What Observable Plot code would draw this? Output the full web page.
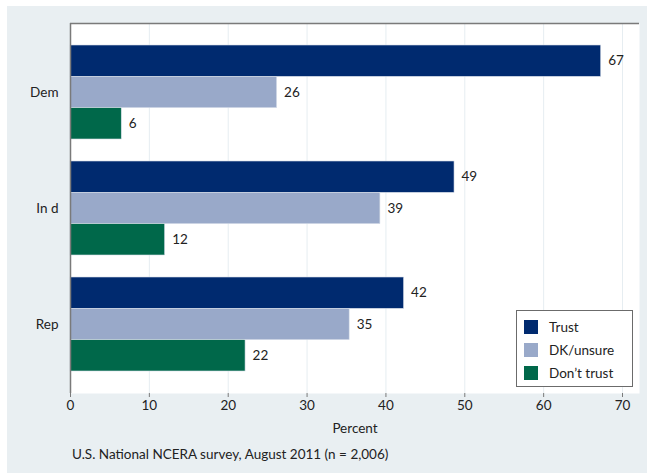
<!DOCTYPE html>
<html><head><meta charset="utf-8">
<script src="https://cdn.jsdelivr.net/npm/d3@7"></script>
<script src="https://cdn.jsdelivr.net/npm/@observablehq/plot@0.6"></script>
<style>
html,body{margin:0;padding:0;background:#fff;}
#wrap{position:relative;width:647px;height:473px;overflow:hidden;font-family:Lato,"Noto Sans",sans-serif;color:#222;}
#panel{position:absolute;left:7px;top:6px;right:0;bottom:0;background:#e9eff2;}
#chart{position:absolute;left:0;top:0;}
#caption{position:absolute;left:72px;top:446px;font-size:13.5px;white-space:nowrap;}
#legend{position:absolute;left:516px;top:310px;width:115px;height:75px;background:#fff;border:1px solid #6b6b6b;font-size:13.5px;}
#legend .row{position:absolute;left:7px;height:16px;line-height:16px;white-space:nowrap;}
#legend .sw{display:inline-block;width:14px;height:14px;vertical-align:top;margin-top:1px;margin-right:11px;}
</style></head>
<body>
<div id="wrap"><div id="panel"></div><div id="chart"></div><div id="legend"></div><div id="caption"></div></div>
<script>
const parties = ["Dem", "In d", "Rep"];
const series = ["Trust", "DK/unsure", "Don\u2019t trust"];
const colors = ["#002a6f", "#99a9c9", "#00684a"];
const trust = [67.3, 48.7, 42.3];
const dkUnsure = [26.2, 39.3, 35.4];
const dontTrust = [6.5, 12.0, 22.2];
const labelsTrust = [67, 49, 42];
const labelsDk = [26, 39, 35];
const labelsDont = [6, 12, 22];
const xTicks = [0, 10, 20, 30, 40, 50, 60, 70];
const caption = "U.S. National NCERA survey, August 2011 (n = 2,006)";
const xLabel = "Percent";

const seriesValues = [trust, dkUnsure, dontTrust];
const seriesLabels = [labelsTrust, labelsDk, labelsDont];
const band = 94 / 116, bw = band / 3, outer = 22 / 116;
const data = [];
parties.forEach((p, i) => {
  series.forEach((s, k) => {
    const y1 = i - band / 2 + k * bw;
    data.push({party: p, series: s, value: seriesValues[k][i], label: seriesLabels[k][i], y1, y2: y1 + bw, yc: y1 + bw / 2});
  });
});

const W = 647, H = 446, mt = 23, mb = H - 393, ml = 70, mr = 647 - 639;
const plot = Plot.plot({
  width: W, height: H,
  marginTop: mt, marginBottom: mb, marginLeft: ml, marginRight: mr,
  style: {background: "transparent", fontFamily: "Lato, 'Noto Sans', sans-serif", fontSize: "13.5px", color: "#222"},
  x: {domain: [0, (639 - 70) / ((622 - 70) / 70)]},
  y: {domain: [-band / 2 - outer, parties.length - 1 + band / 2 + outer], reverse: true},
  color: {domain: series, range: colors},
  marks: [
    Plot.frame({fill: "white", stroke: "none"}),
    Plot.ruleX(xTicks.slice(1), {stroke: "#e6edf1", strokeWidth: 1}),
    Plot.rectX(data, {x1: 0, x2: "value", y1: "y1", y2: "y2", fill: "series", stroke: "#d6dde8", strokeWidth: 0.6}),
    Plot.text(data, {x: "value", y: "yc", text: d => String(d.label), dx: 7, textAnchor: "start", fill: "#222", fontSize: 13.5}),
    Plot.axisX({ticks: xTicks, tickSize: 4, tickPadding: 3, stroke: "#7a7a7a", label: null, fontSize: 13.5}),
    Plot.axisY({ticks: parties.map((_, i) => i), tickFormat: i => parties[i], tickSize: 0, tickPadding: 12, label: null, fontSize: 13.5}),
    Plot.ruleX([0], {stroke: "#7a7a7a", strokeWidth: 1.5}),
    Plot.ruleY([-band / 2 - outer], {stroke: "#7a7a7a", strokeWidth: 1.5}),
    Plot.text([xLabel], {frameAnchor: "bottom", text: d => d, dy: 39, fontSize: 13.5, fill: "#222"})
  ]
});
document.getElementById("chart").appendChild(plot);

const leg = document.getElementById("legend");
series.forEach((s, k) => {
  const r = document.createElement("div");
  r.className = "row";
  r.style.top = (8 + k * 23) + "px";
  r.innerHTML = `<span class="sw" style="background:${colors[k]}"></span>${s}`;
  leg.appendChild(r);
});
document.getElementById("caption").textContent = caption;
</script>
</body></html>
